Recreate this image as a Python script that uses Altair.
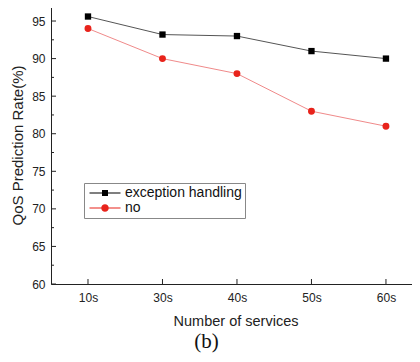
import altair as alt
import pandas as pd

categories = ["10s", "30s", "40s", "50s", "60s"]
series_names = ["exception handling", "no"]
exception_handling = [95.6, 93.2, 93.0, 91.0, 90.0]
no_handling = [94.0, 90.0, 88.0, 83.0, 81.0]
y_major = [60, 65, 70, 75, 80, 85, 90, 95]
y_minor = [62.5, 67.5, 72.5, 77.5, 82.5, 87.5, 92.5]

W, H = 369, 278

rows = []
for i, (c, a, b) in enumerate(zip(categories, exception_handling, no_handling)):
    rows.append({"idx": i, "cat": c, "series": series_names[0], "val": a})
    rows.append({"idx": i, "cat": c, "series": series_names[1], "val": b})
df = pd.DataFrame(rows)

label_expr = "[" + ",".join("'%s'" % c for c in categories) + "][datum.value]"

xscale = alt.Scale(domain=[-0.4966, 4.457], nice=False, zero=False)
yscale = alt.Scale(domain=[60, 97.0], nice=False, zero=False)

x_axis = alt.Axis(title="Number of services", values=list(range(len(categories))),
                  labelExpr=label_expr, labelAngle=0, ticks=False, grid=False,
                  labelPadding=8, titlePadding=11, domainColor="#222",
                  labelFontSize=12, titleFontSize=14.5, titleFontWeight="normal",
                  labelColor="#222", titleColor="#222")
y_axis = alt.Axis(title="QoS Prediction Rate(%)", values=y_major, ticks=False,
                  labelPadding=6, titlePadding=6, domainColor="#222", grid=False,
                  labelFontSize=12, titleFontSize=15, titleFontWeight="normal",
                  labelColor="#222", titleColor="#222")

x_enc = alt.X("idx:Q", scale=xscale, axis=x_axis)
y_enc = alt.Y("val:Q", scale=yscale, axis=y_axis)

base = alt.Chart(df)

line_a = base.transform_filter(alt.datum.series == series_names[0]).mark_line(
    strokeWidth=1, color="#555555").encode(x=x_enc, y=y_enc)
line_b = base.transform_filter(alt.datum.series == series_names[1]).mark_line(
    strokeWidth=1, color="#f08a8a").encode(x=x_enc, y=y_enc)

squares = base.transform_filter(alt.datum.series == series_names[0]).mark_point(
    shape="square", filled=True, size=40, color="#000000", opacity=1).encode(x=x_enc, y=y_enc)
circles = base.transform_filter(alt.datum.series == series_names[1]).mark_point(
    shape="circle", filled=True, size=48, color="#e8231b", opacity=1).encode(x=x_enc, y=y_enc)

sq_path = "M-3.875,-0.12H3.875V0.12H-3.875Z M-0.75,-0.75H0.75V0.75H-0.75Z"
ci_path = "M-3.875,-0.12H3.875V0.12H-3.875Z M0.94,0A0.94,0.94 0 1,1 -0.94,0A0.94,0.94 0 1,1 0.94,0Z"

leg = alt.Legend(title=None, orient="none", legendX=33, legendY=177,
                 symbolSize=64, symbolStrokeWidth=0, symbolOffset=11,
                 labelOffset=13, labelFontSize=14, labelColor="#111",
                 strokeColor="#888888", fillColor="#ffffff", padding=3,
                 rowPadding=1, labelLimit=300)

legend_layer = base.mark_point(filled=True, opacity=1, size=0).encode(
    x=x_enc, y=y_enc,
    color=alt.Color("series:N", scale=alt.Scale(domain=series_names, range=["#000000", "#e8231b"]), legend=leg),
    shape=alt.Shape("series:N", scale=alt.Scale(domain=series_names, range=[sq_path, ci_path]), legend=leg),
)

tick_df = pd.DataFrame({"val": y_major})
minor_df = pd.DataFrame({"val": y_minor})
major_ticks = alt.Chart(tick_df).mark_rule(color="#222", strokeWidth=1).encode(
    y=y_enc, x=alt.value(0), x2=alt.value(5))
minor_ticks = alt.Chart(minor_df).mark_rule(color="#222", strokeWidth=1).encode(
    y=y_enc, x=alt.value(0), x2=alt.value(3))
x_ticks = alt.Chart(pd.DataFrame({"idx": list(range(len(categories)))})).mark_rule(color="#222", strokeWidth=1).encode(
    x=x_enc, y=alt.value(H - 5), y2=alt.value(H))
top_border = alt.Chart(pd.DataFrame({"idx": [0]})).mark_rule(color="#555", strokeWidth=1.5).encode(
    x=alt.value(0), x2=alt.value(W), y=alt.value(0))

chart = alt.layer(
    line_a, line_b, squares, circles, legend_layer, major_ticks, minor_ticks, x_ticks, top_border
).properties(
    width=W, height=H,
    autosize=alt.AutoSizeParams(type="none"),
    padding={"left": 43, "top": -2, "right": -8, "bottom": 70},
    title=alt.TitleParams(text="(b)", orient="bottom", font="Liberation Serif", fontSize=21,
                          fontWeight="normal", color="#111", dx=-29, offset=3),
).configure_view(stroke=None).configure(font="Liberation Sans")

chart.save("out.html", embed_options={"renderer": "svg", "actions": False})
